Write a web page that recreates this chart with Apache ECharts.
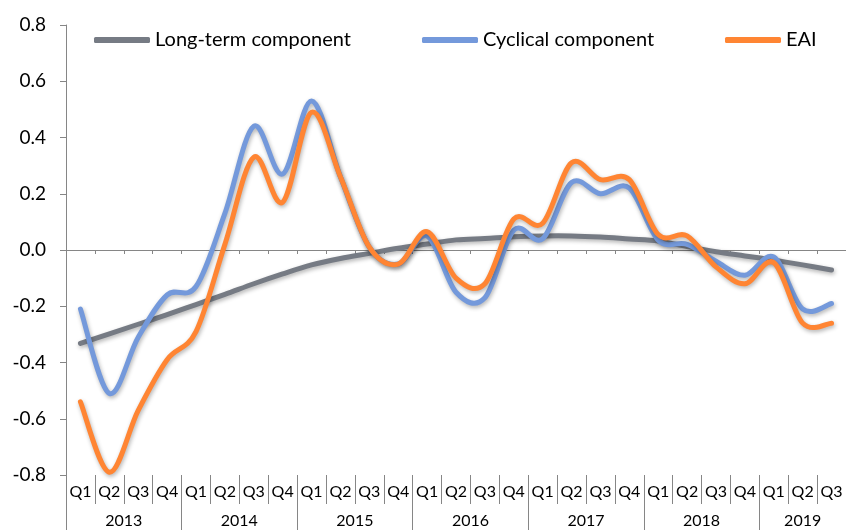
<!DOCTYPE html>
<html>
<head>
<meta charset="utf-8">
<script src="https://cdn.jsdelivr.net/npm/echarts@6/dist/echarts.min.js"></script>
<style>
  html, body { margin: 0; padding: 0; background: #fff; }
  #chart { width: 846px; height: 530px; }
</style>
</head>
<body>
<div id="chart"></div>
<script>
// quarters 2013 Q1 .. 2019 Q3
const quarters = [
  'Q1', 'Q2', 'Q3', 'Q4', 'Q1', 'Q2', 'Q3', 'Q4', 'Q1', 'Q2', 'Q3', 'Q4',
  'Q1', 'Q2', 'Q3', 'Q4', 'Q1', 'Q2', 'Q3', 'Q4', 'Q1', 'Q2', 'Q3', 'Q4',
  'Q1', 'Q2', 'Q3',
]
const years = ['2013', '2014', '2015', '2016', '2017', '2018', '2019']
const quartersPerYear = [4, 4, 4, 4, 4, 4, 3]
const yTicks = [-0.8, -0.6, -0.4, -0.2, 0, 0.2, 0.4, 0.6, 0.8]

const longTerm = [
  -0.332, -0.298, -0.264, -0.23, -0.194, -0.158, -0.12, -0.085, -0.053,
  -0.03, -0.012, 0.006, 0.021, 0.036, 0.041, 0.047, 0.05, 0.05,
  0.046, 0.039, 0.032, 0.012, -0.006, -0.021, -0.036, -0.053, -0.071,
]
const cyclical = [
  -0.21, -0.51, -0.31, -0.16, -0.13, 0.13, 0.44, 0.27, 0.53,
  0.26, 0.01, -0.05, 0.05, -0.15, -0.17, 0.07, 0.04, 0.24,
  0.2, 0.22, 0.035, 0.02, -0.04, -0.09, -0.025, -0.21, -0.19,
]
const eai = [
  -0.54, -0.79, -0.57, -0.39, -0.29, 0.02, 0.33, 0.17, 0.49,
  0.26, 0.01, -0.05, 0.065, -0.1, -0.12, 0.11, 0.095, 0.31,
  0.25, 0.25, 0.055, 0.05, -0.06, -0.12, -0.045, -0.26, -0.26,
]

const font = 'Lato'
const axisGray = '#868686'

// year label centres and separators on a 0..27 value scale
let yearStarts = []
let yearCenters = []
let acc = 0
quartersPerYear.forEach((n) => {
  yearStarts.push(acc)
  yearCenters.push(acc + n / 2)
  acc += n
})
yearStarts.push(acc)

function legendAt(name, left) {
  return {
    data: [name],
    left: left,
    top: 30,
    padding: 0,
    icon: 'roundRect',
    itemWidth: 56,
    itemHeight: 6,
    textStyle: { fontFamily: font, fontSize: 20, color: '#000' },
  }
}

// Excel-like smoothed line (catmull-rom through the points), positions from api.coord
function smoothLine(name, values, color, z) {
  return {
    name: name,
    type: 'custom',
    z: z,
    itemStyle: { color: color },
    encode: { x: 0, y: 1 },
    data: values.map((v, i) => [i, v]),
    renderItem: (params, api) => {
      if (params.dataIndex !== 0) return null
      const n = values.length
      const pt = (k) => {
        k = Math.min(Math.max(k, 0), n - 1)
        return api.coord([k, values[k]])
      }
      const p0 = pt(0)
      let d = 'M' + p0[0] + ' ' + p0[1]
      for (let i = 0; i < n - 1; i++) {
        const a = pt(i - 1)
        const b = pt(i)
        const c = pt(i + 1)
        const e = pt(i + 2)
        const c1x = b[0] + (c[0] - a[0]) / 6
        const c1y = b[1] + (c[1] - a[1]) / 6
        const c2x = c[0] - (e[0] - b[0]) / 6
        const c2y = c[1] - (e[1] - b[1]) / 6
        d += ' C' + c1x + ' ' + c1y + ' ' + c2x + ' ' + c2y + ' ' + c[0] + ' ' + c[1]
      }
      return {
        type: 'path',
        shape: { pathData: d },
        style: {
          fill: null,
          stroke: color,
          lineWidth: 5,
          lineCap: 'round',
          lineJoin: 'round',
          shadowColor: 'rgba(0,0,0,0.3)',
          shadowBlur: 4,
          shadowOffsetX: 1,
          shadowOffsetY: 2,
        },
      }
    },
  }
}

const myChart = echarts.init(document.getElementById('chart'))
myChart.setOption({
  animation: false,
  backgroundColor: '#fff',
  legend: [
    legendAt('Long-term component', 94),
    legendAt('Cyclical component', 422),
    legendAt('EAI', 725),
  ],
  grid: {
    left: 66,
    right: 0,
    top: 25,
    bottom: 55,
  },
  xAxis: [
    {
      // zero line with small ticks
      type: 'category',
      data: quarters,
      position: 'bottom',
      axisLine: { onZero: true, lineStyle: { color: axisGray, width: 1 } },
      axisTick: { show: true, interval: 0, length: 4, lineStyle: { color: axisGray } },
      axisLabel: { show: false },
      splitLine: { show: false },
    },
    {
      // quarter row
      type: 'category',
      data: quarters,
      position: 'bottom',
      axisLine: { show: false, onZero: false },
      axisTick: { show: true, interval: 0, length: 29, lineStyle: { color: axisGray } },
      axisLabel: {
        interval: 0,
        margin: 9,
        fontFamily: font,
        fontSize: 16,
        color: '#000',
      },
      splitLine: { show: false },
    },
    {
      // year row
      type: 'value',
      min: 0,
      max: acc,
      position: 'bottom',
      axisLine: { show: false, onZero: false },
      axisTick: {
        show: true,
        length: 55,
        customValues: yearStarts,
        lineStyle: { color: axisGray },
      },
      axisLabel: {
        customValues: yearCenters,
        margin: 38,
        fontFamily: font,
        fontSize: 16,
        color: '#000',
        formatter: (v) => years[yearCenters.indexOf(v)],
      },
      splitLine: { show: false },
    },
  ],
  yAxis: {
    type: 'value',
    min: yTicks[0],
    max: yTicks[yTicks.length - 1],
    interval: 0.2,
    axisLine: { show: true, onZero: false, lineStyle: { color: axisGray } },
    axisTick: { show: true, length: 6, lineStyle: { color: axisGray } },
    axisLabel: {
      margin: 20,
      fontFamily: font,
      fontSize: 19,
      color: '#000',
      formatter: (v) => v.toFixed(1),
    },
    splitLine: { show: false },
  },
  series: [
    smoothLine('Long-term component', longTerm, '#767b84', 2),
    smoothLine('Cyclical component', cyclical, '#7499db', 3),
    smoothLine('EAI', eai, '#ff8533', 4),
  ],
})
</script>
</body>
</html>
